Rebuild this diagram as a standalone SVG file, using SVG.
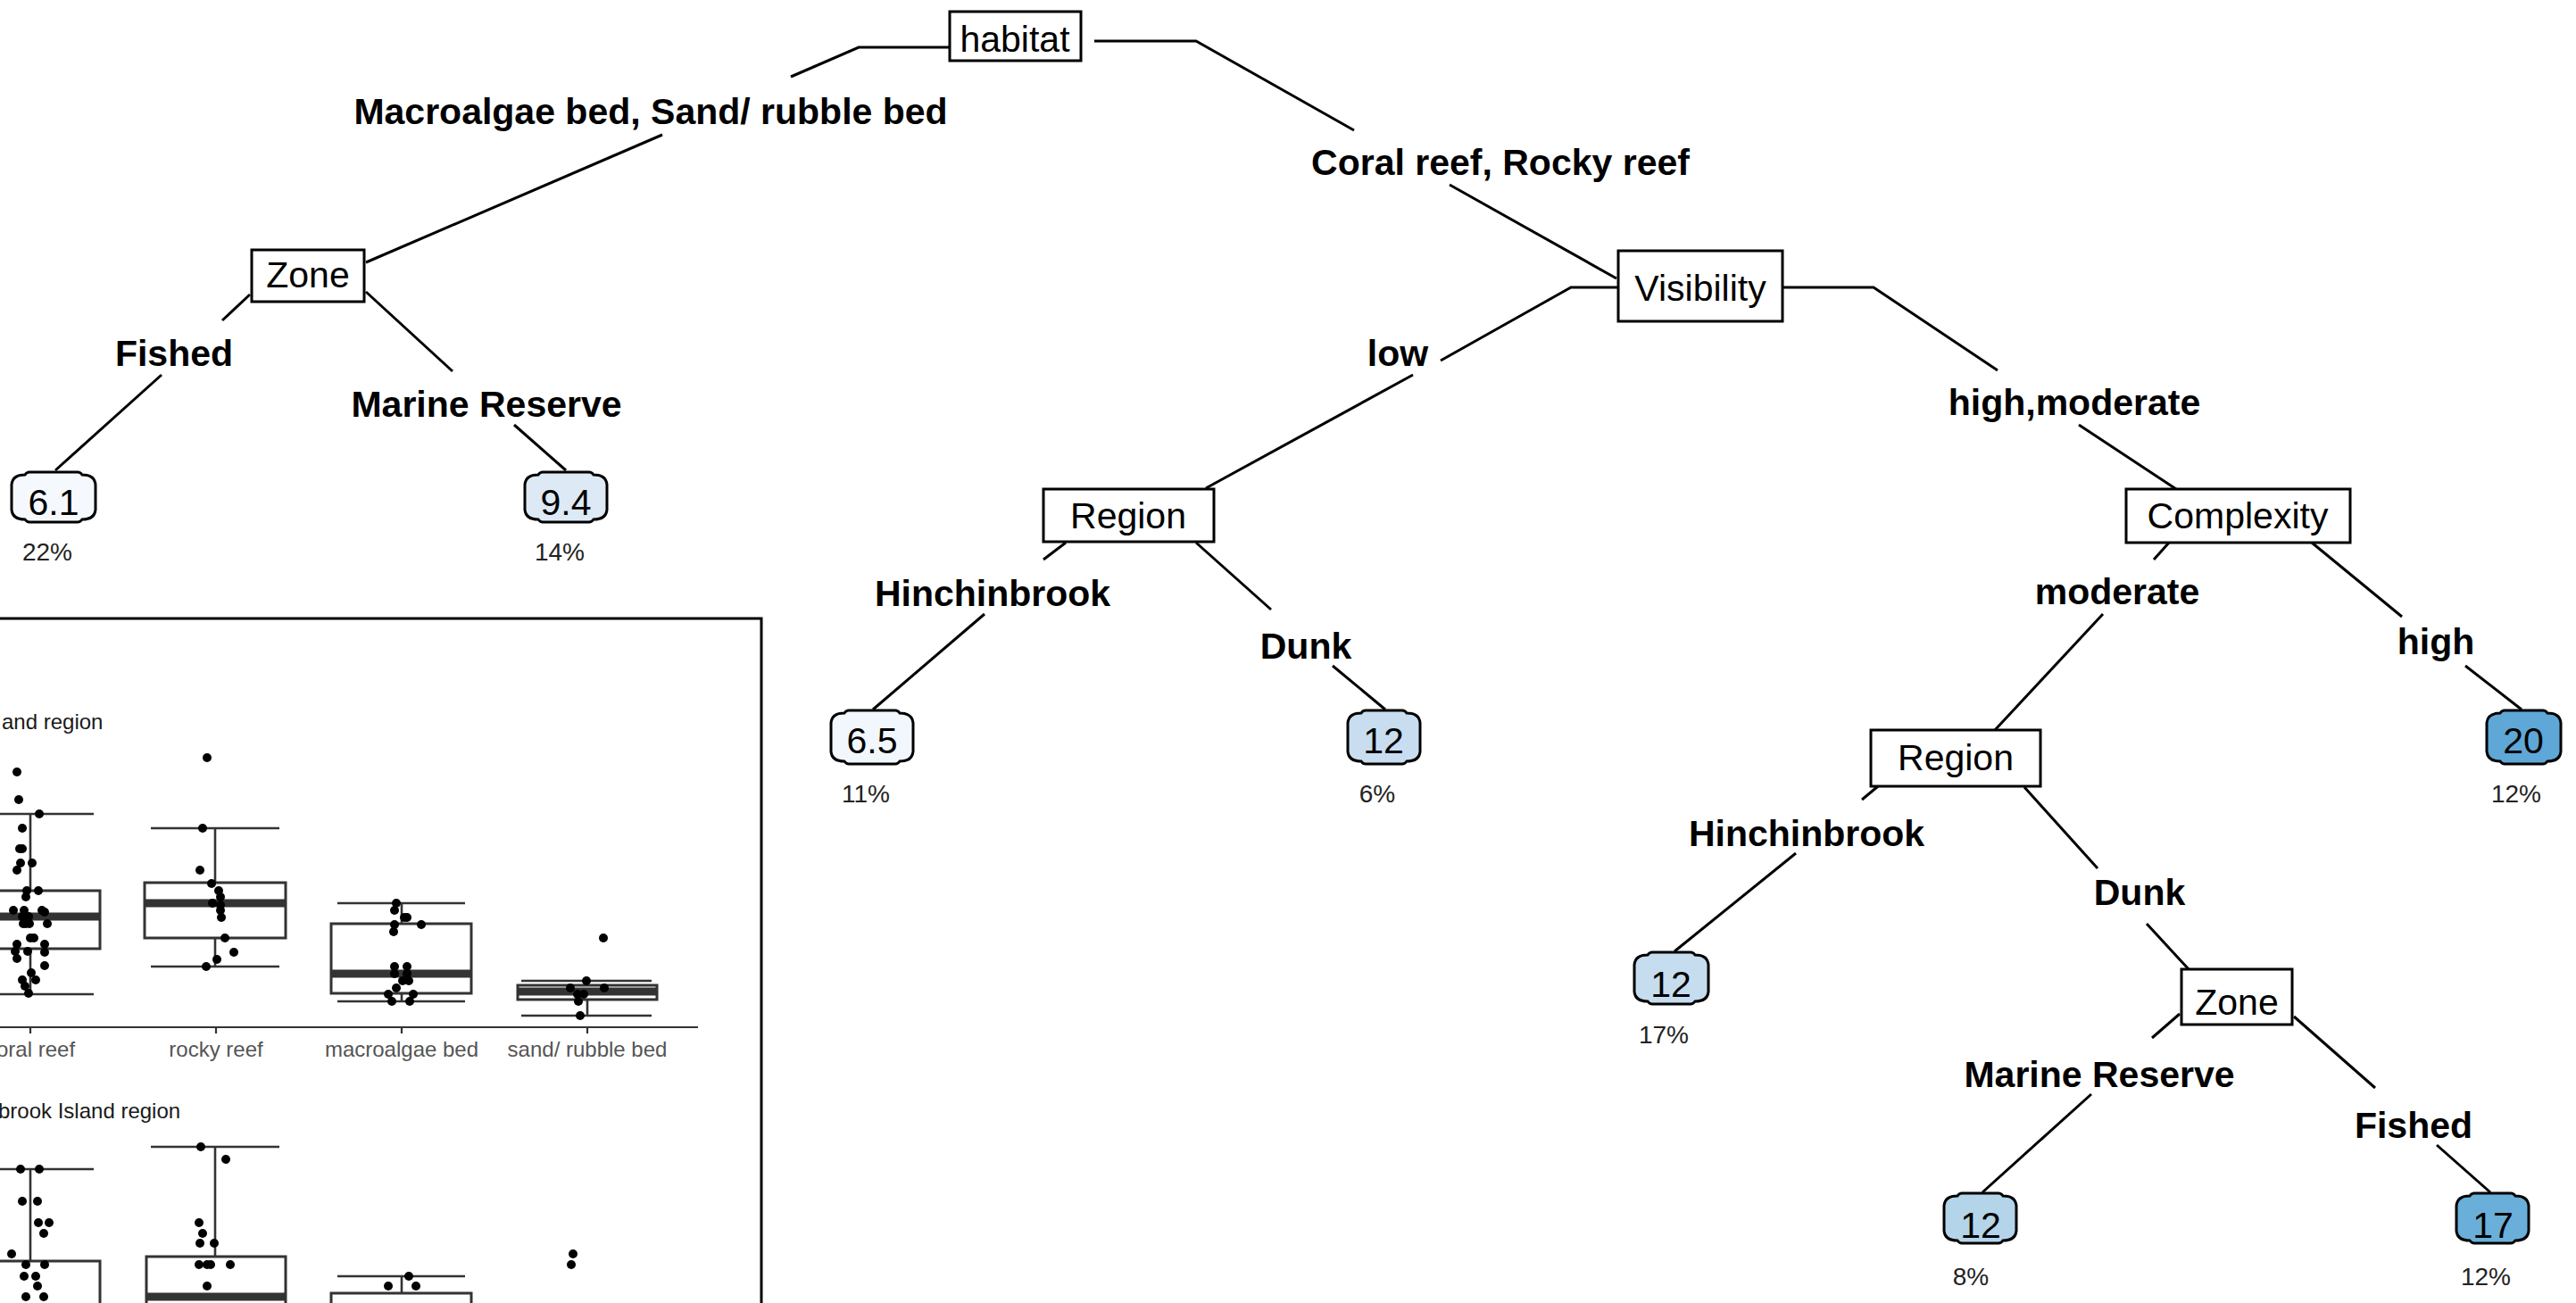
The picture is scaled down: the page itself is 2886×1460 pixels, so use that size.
<svg xmlns="http://www.w3.org/2000/svg" width="2886" height="1460" viewBox="0 0 2886 1460">
<style>
.bg{fill:#fff}
.node rect{fill:#fff;stroke:#000;stroke-width:3}
.t{font-family:"Liberation Sans",Arial,sans-serif;font-size:41px;text-anchor:middle;fill:#000}
.b{font-weight:bold}
.pct{font-family:"Liberation Sans",Arial,sans-serif;font-size:28px;text-anchor:middle;fill:#222}
.leaf path{stroke:#000;stroke-width:3}
.conn path{fill:none;stroke:#000;stroke-width:3}
.frame{fill:none;stroke:#000;stroke-width:3}
.ax{stroke:#333;stroke-width:2.2;fill:none}
.bx{fill:#fff;stroke:#333;stroke-width:3}
.wh{stroke:#333;stroke-width:2.6;fill:none}
.med{stroke:#333;stroke-width:9}
.pt circle{fill:#000}
.ttl{font-family:"Liberation Sans",Arial,sans-serif;font-size:24px;fill:#1a1a1a}
.tick{font-family:"Liberation Sans",Arial,sans-serif;font-size:24px;fill:#555;text-anchor:middle}
</style>
<rect class="bg" x="0" y="0" width="2886" height="1460"/>

<g id="inset">
  <rect class="frame" x="-10" y="693" width="863" height="800"/>
  <text class="ttl" x="2" y="817">and region</text>
  <line class="ax" x1="0" y1="1151" x2="782" y2="1151"/>
  <line class="ax" x1="34" y1="1151" x2="34" y2="1158"/>
  <line class="ax" x1="242" y1="1151" x2="242" y2="1158"/>
  <line class="ax" x1="450" y1="1151" x2="450" y2="1158"/>
  <line class="ax" x1="658" y1="1151" x2="658" y2="1158"/>
  <text class="tick" x="-4" y="1184" style="text-anchor:start">oral reef</text>
  <text class="tick" x="242" y="1184">rocky reef</text>
  <text class="tick" x="450" y="1184">macroalgae bed</text>
  <text class="tick" x="658" y="1184">sand/ rubble bed</text>
  <path class="wh" d="M34,912 V998 M34,1063 V1114 M-37,912 H105 M-37,1114 H105"/>
  <rect class="bx" x="-44" y="998" width="156" height="65"/>
  <line class="med" x1="-44" y1="1027" x2="112" y2="1027"/>
  <path class="wh" d="M241,928 V989 M241,1051 V1083 M169,928 H313 M169,1083 H313"/>
  <rect class="bx" x="162" y="989" width="158" height="62"/>
  <line class="med" x1="162" y1="1012" x2="320" y2="1012"/>
  <path class="wh" d="M450,1012 V1035 M450,1113 V1122 M378,1012 H521 M378,1122 H521"/>
  <rect class="bx" x="371" y="1035" width="157" height="78"/>
  <line class="med" x1="371" y1="1091" x2="528" y2="1091"/>
  <path class="wh" d="M658,1099 V1104 M658,1120 V1138 M584,1099 H730 M584,1138 H730"/>
  <rect class="bx" x="580" y="1104" width="156" height="16"/>
  <line class="med" x1="580" y1="1111" x2="736" y2="1111"/>
  <g class="pt">
    <circle cx="19" cy="865" r="5"/><circle cx="21" cy="896" r="5"/><circle cx="44" cy="912" r="5"/><circle cx="25" cy="928" r="5"/>
    <circle cx="22" cy="951" r="5"/><circle cx="25" cy="951" r="5"/><circle cx="23" cy="967" r="5"/><circle cx="36" cy="967" r="5"/>
    <circle cx="19" cy="975" r="5"/><circle cx="30" cy="998" r="5"/><circle cx="43" cy="998" r="5"/><circle cx="29" cy="1005" r="5"/>
    <circle cx="15" cy="1020" r="5"/><circle cx="27" cy="1020" r="5"/><circle cx="47" cy="1020" r="5"/><circle cx="50" cy="1022" r="5"/>
    <circle cx="25" cy="1027" r="5"/><circle cx="32" cy="1027" r="5"/><circle cx="26" cy="1035" r="5"/><circle cx="29" cy="1035" r="5"/>
    <circle cx="33" cy="1035" r="5"/><circle cx="53" cy="1035" r="5"/><circle cx="34" cy="1051" r="5"/><circle cx="38" cy="1051" r="5"/>
    <circle cx="19" cy="1058" r="5"/><circle cx="50" cy="1058" r="5"/><circle cx="17" cy="1066" r="5"/><circle cx="31" cy="1066" r="5"/>
    <circle cx="50" cy="1067" r="5"/><circle cx="19" cy="1074" r="5"/><circle cx="50" cy="1082" r="5"/><circle cx="35" cy="1090" r="5"/>
    <circle cx="25" cy="1098" r="5"/><circle cx="40" cy="1098" r="5"/><circle cx="28" cy="1105" r="5"/><circle cx="32" cy="1113" r="5"/>
    <circle cx="232" cy="849" r="5"/><circle cx="227" cy="928" r="5"/><circle cx="224" cy="975" r="5"/><circle cx="237" cy="990" r="5"/>
    <circle cx="245" cy="998" r="5"/><circle cx="247" cy="1005" r="5"/><circle cx="247" cy="1014" r="5"/><circle cx="238" cy="1012" r="5"/>
    <circle cx="247" cy="1020" r="5"/><circle cx="248" cy="1028" r="5"/><circle cx="252" cy="1051" r="5"/><circle cx="262" cy="1067" r="5"/>
    <circle cx="243" cy="1075" r="5"/><circle cx="231" cy="1083" r="5"/>
    <circle cx="444" cy="1012" r="5"/><circle cx="442" cy="1020" r="5"/><circle cx="453" cy="1028" r="5"/><circle cx="456" cy="1028" r="5"/>
    <circle cx="442" cy="1036" r="5"/><circle cx="472" cy="1036" r="5"/><circle cx="441" cy="1044" r="5"/><circle cx="442" cy="1083" r="5"/>
    <circle cx="456" cy="1083" r="5"/><circle cx="442" cy="1091" r="5"/><circle cx="456" cy="1091" r="5"/><circle cx="451" cy="1099" r="5"/>
    <circle cx="458" cy="1099" r="5"/><circle cx="444" cy="1107" r="5"/><circle cx="435" cy="1114" r="5"/><circle cx="463" cy="1114" r="5"/>
    <circle cx="439" cy="1122" r="5"/><circle cx="459" cy="1122" r="5"/>
    <circle cx="676" cy="1051" r="5"/><circle cx="657" cy="1099" r="5"/><circle cx="639" cy="1107" r="5"/><circle cx="677" cy="1107" r="5"/>
    <circle cx="654" cy="1114" r="5"/><circle cx="647" cy="1114" r="5"/><circle cx="648" cy="1122" r="5"/><circle cx="650" cy="1138" r="5"/>
  </g>
  <text class="ttl" x="-2" y="1253">brook Island region</text>
  <path class="wh" d="M34,1310 V1413 M-37,1310 H105"/>
  <rect class="bx" x="-44" y="1413" width="156" height="80"/>
  <path class="wh" d="M241,1285 V1408 M169,1285 H313"/>
  <rect class="bx" x="164" y="1408" width="156" height="85"/>
  <line class="med" x1="164" y1="1453" x2="320" y2="1453"/>
  <path class="wh" d="M450,1430 V1449 M378,1430 H521"/>
  <rect class="bx" x="371" y="1449" width="157" height="44"/>
  <g class="pt">
    <circle cx="23" cy="1310" r="5"/><circle cx="44" cy="1310" r="5"/><circle cx="25" cy="1346" r="5"/><circle cx="42" cy="1346" r="5"/>
    <circle cx="43" cy="1370" r="5"/><circle cx="55" cy="1370" r="5"/><circle cx="49" cy="1382" r="5"/><circle cx="13" cy="1405" r="5"/>
    <circle cx="29" cy="1417" r="5"/><circle cx="50" cy="1417" r="5"/><circle cx="27" cy="1430" r="5"/><circle cx="40" cy="1430" r="5"/>
    <circle cx="42" cy="1441" r="5"/><circle cx="29" cy="1453" r="5"/><circle cx="49" cy="1453" r="5"/>
    <circle cx="225" cy="1285" r="5"/><circle cx="253" cy="1299" r="5"/><circle cx="223" cy="1370" r="5"/><circle cx="227" cy="1382" r="5"/>
    <circle cx="224" cy="1393" r="5"/><circle cx="240" cy="1393" r="5"/><circle cx="223" cy="1417" r="5"/><circle cx="232" cy="1417" r="5"/>
    <circle cx="236" cy="1417" r="5"/><circle cx="258" cy="1417" r="5"/><circle cx="232" cy="1441" r="5"/>
    <circle cx="458" cy="1430" r="5"/><circle cx="435" cy="1441" r="5"/><circle cx="466" cy="1441" r="5"/>
    <circle cx="642" cy="1405" r="5"/><circle cx="640" cy="1417" r="5"/>
  </g>
</g>

<g id="connectors" class="conn">
  <path d="M1064,53 H962 L886,86"/>
  <path d="M742,151 L410,294"/>
  <path d="M280,330 L249,359"/>
  <path d="M181,420 L62,527"/>
  <path d="M410,327 L507,416"/>
  <path d="M576,476 L634,527"/>
  <path d="M1226,46 H1340 L1517,146"/>
  <path d="M1624,207 L1811,312"/>
  <path d="M1813,322 H1760 L1614,404"/>
  <path d="M1583,420 L1351,547"/>
  <path d="M1194,608 L1169,627"/>
  <path d="M1103,688 L978,795"/>
  <path d="M1340,608 L1424,683"/>
  <path d="M1493,746 L1552,795"/>
  <path d="M1997,322 H2099 L2238,415"/>
  <path d="M2329,476 L2438,548"/>
  <path d="M2430,608 L2413,627"/>
  <path d="M2356,688 L2235,818"/>
  <path d="M2590,608 L2691,691"/>
  <path d="M2762,746 L2825,795"/>
  <path d="M2104,881 L2086,896"/>
  <path d="M2012,956 L1876,1066"/>
  <path d="M2268,882 L2350,973"/>
  <path d="M2405,1035 L2452,1086"/>
  <path d="M2442,1136 L2411,1163"/>
  <path d="M2343,1226 L2221,1336"/>
  <path d="M2570,1139 L2661,1219"/>
  <path d="M2730,1283 L2790,1336"/>
</g>

<g id="branch-labels">
  <text class="t b" x="729" y="139">Macroalgae bed, Sand/ rubble bed</text>
  <text class="t b" x="1681" y="196">Coral reef, Rocky reef</text>
  <text class="t b" x="195" y="410">Fished</text>
  <text class="t b" x="545" y="467">Marine Reserve</text>
  <text class="t b" x="1566" y="410">low</text>
  <text class="t b" x="2324" y="465">high,moderate</text>
  <text class="t b" x="1112" y="679">Hinchinbrook</text>
  <text class="t b" x="1463" y="738">Dunk</text>
  <text class="t b" x="2372" y="677">moderate</text>
  <text class="t b" x="2729" y="733">high</text>
  <text class="t b" x="2024" y="948">Hinchinbrook</text>
  <text class="t b" x="2397" y="1014">Dunk</text>
  <text class="t b" x="2352" y="1218">Marine Reserve</text>
  <text class="t b" x="2704" y="1275">Fished</text>
</g>

<g id="node-habitat" class="node"><rect x="1064" y="13" width="147" height="55"/><text class="t" x="1137" y="58">habitat</text></g>
<g id="node-zone1" class="node"><rect x="282" y="280" width="126" height="58"/><text class="t" x="345" y="322">Zone</text></g>
<g id="node-visibility" class="node"><rect x="1813" y="281" width="184" height="79"/><text class="t" x="1905" y="337">Visibility</text></g>
<g id="node-region1" class="node"><rect x="1169" y="548" width="191" height="59"/><text class="t" x="1264" y="592">Region</text></g>
<g id="node-complexity" class="node"><rect x="2382" y="548" width="251" height="60"/><text class="t" x="2507" y="592">Complexity</text></g>
<g id="node-region2" class="node"><rect x="2096" y="818" width="190" height="63"/><text class="t" x="2191" y="863">Region</text></g>
<g id="node-zone2" class="node"><rect x="2444" y="1086" width="124" height="62"/><text class="t" x="2506" y="1137">Zone</text></g>

<g id="leaf-6-1" class="leaf">
  <path fill="#f5f9fe" d="M33,529 h54 q3,0 5,3 q14,0 15,11 v28 q-1,11 -15,11 q-2,3 -5,3 h-54 q-3,0 -5,-3 q-14,0 -15,-11 v-28 q1,-11 15,-11 q2,-3 5,-3 z"/>
  <text class="t" x="60" y="577">6.1</text><text class="pct" x="53" y="628">22%</text>
</g>
<g id="leaf-9-4" class="leaf">
  <path fill="#dde9f5" d="M608,529 h52 q3,0 5,3 q14,0 15,11 v28 q-1,11 -15,11 q-2,3 -5,3 h-52 q-3,0 -5,-3 q-14,0 -15,-11 v-28 q1,-11 15,-11 q2,-3 5,-3 z"/>
  <text class="t" x="634" y="577">9.4</text><text class="pct" x="627" y="628">14%</text>
</g>
<g id="leaf-6-5" class="leaf">
  <path fill="#f2f7fd" d="M951,796 h52 q3,0 5,3 q14,0 15,11 v32 q-1,11 -15,11 q-2,3 -5,3 h-52 q-3,0 -5,-3 q-14,0 -15,-11 v-32 q1,-11 15,-11 q2,-3 5,-3 z"/>
  <text class="t" x="977" y="844">6.5</text><text class="pct" x="970" y="899">11%</text>
</g>
<g id="leaf-12-dunk" class="leaf">
  <path fill="#c9ddf0" d="M1530,796 h41 q3,0 5,3 q14,0 15,11 v32 q-1,11 -15,11 q-2,3 -5,3 h-41 q-3,0 -5,-3 q-14,0 -15,-11 v-32 q1,-11 15,-11 q2,-3 5,-3 z"/>
  <text class="t" x="1550" y="844">12</text><text class="pct" x="1543" y="899">6%</text>
</g>
<g id="leaf-20" class="leaf">
  <path fill="#5fa7d6" d="M2806,796 h43 q3,0 5,3 q14,0 15,11 v32 q-1,11 -15,11 q-2,3 -5,3 h-43 q-3,0 -5,-3 q-14,0 -15,-11 v-32 q1,-11 15,-11 q2,-3 5,-3 z"/>
  <text class="t" x="2827" y="844">20</text><text class="pct" x="2819" y="899">12%</text>
</g>
<g id="leaf-12-hinch" class="leaf">
  <path fill="#c6dcef" d="M1851,1067 h43 q3,0 5,3 q14,0 15,11 v30 q-1,11 -15,11 q-2,3 -5,3 h-43 q-3,0 -5,-3 q-14,0 -15,-11 v-30 q1,-11 15,-11 q2,-3 5,-3 z"/>
  <text class="t" x="1872" y="1117">12</text><text class="pct" x="1864" y="1169">17%</text>
</g>
<g id="leaf-12-mr" class="leaf">
  <path fill="#b4d4ea" d="M2198,1337 h41 q3,0 5,3 q14,0 15,11 v28 q-1,11 -15,11 q-2,3 -5,3 h-41 q-3,0 -5,-3 q-14,0 -15,-11 v-28 q1,-11 15,-11 q2,-3 5,-3 z"/>
  <text class="t" x="2219" y="1387">12</text><text class="pct" x="2208" y="1440">8%</text>
</g>
<g id="leaf-17" class="leaf">
  <path fill="#6aafd9" d="M2772,1337 h41 q3,0 5,3 q14,0 15,11 v28 q-1,11 -15,11 q-2,3 -5,3 h-41 q-3,0 -5,-3 q-14,0 -15,-11 v-28 q1,-11 15,-11 q2,-3 5,-3 z"/>
  <text class="t" x="2793" y="1387">17</text><text class="pct" x="2785" y="1440">12%</text>
</g>
</svg>
